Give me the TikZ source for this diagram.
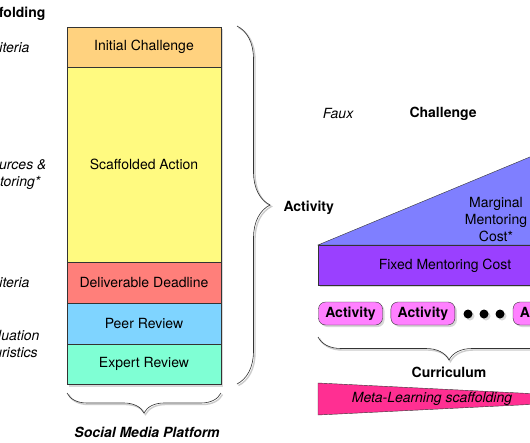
\documentclass[tikz,border=0pt]{standalone}
\usepackage{fontspec}
\setmainfont{TeX Gyre Heros}
\usetikzlibrary{positioning, shadows, decorations.pathreplacing}
\definecolor{initcol}{HTML}{FFD27F}
\definecolor{scafcol}{HTML}{FFFA80}
\definecolor{deadcol}{HTML}{FF7F7A}
\definecolor{peercol}{HTML}{7FD4FF}
\definecolor{expcol}{HTML}{7FFFD4}
\definecolor{margcol}{HTML}{7F7FFF}
\definecolor{fixcol}{HTML}{9A40FF}
\definecolor{pillcol}{HTML}{FF80FF}
\definecolor{metacol}{HTML}{FF2F92}

\begin{document}
\begin{tikzpicture}[
    x=1pt, y=-1pt,
    font=\fontsize{14}{17}\selectfont,
    shade/.style={drop shadow={shadow xshift=2pt, shadow yshift=-2pt, opacity=0.3}},
    stage/.style={draw=black!80, fill=#1, minimum width=154pt, inner sep=0pt, shade},
    pill/.style={draw=black!80, fill=pillcol, rounded corners=7pt, minimum width=64pt,
        minimum height=23pt, inner sep=0pt, font=\fontsize{14}{17}\selectfont\bfseries, shade},
    dot/.style={circle, fill=black, minimum size=9pt, inner sep=0pt, shade},
    curly/.style={decorate, decoration={brace, amplitude=#1}, draw=black!80, semithick,
        preaction={draw=black!20, line width=1.4pt, transform canvas={xshift=1.5pt, yshift=-1.5pt}}},
    side/.style={font=\fontsize{14}{17}\selectfont\itshape, align=center, anchor=east},
    heading/.style={font=\fontsize{14}{17}\selectfont\bfseries}
]
\useasboundingbox (0,0) rectangle (530,442);
\fill[white] (0,0) rectangle (530,442);
\clip (0,0) rectangle (530,442);

% Activity stack
\node[stage=initcol, minimum height=40pt] (init) at (144,46.7) {Initial Challenge};
\node[stage=scafcol, minimum height=194.7pt, below=0pt of init] (scaf) {Scaffolded Action};
\node[stage=deadcol, minimum height=40.6pt, below=0pt of scaf] (dead) {Deliverable Deadline};
\node[stage=peercol, minimum height=40.6pt, below=0pt of dead] (peer) {Peer Review};
\node[stage=expcol, minimum height=40.4pt, below=0pt of peer] (exp) {Expert Review};

% Side labels
\node[heading, anchor=east] (scaffolding) at (49,14) {Scaffolding};
\node[side] (crit1) at (33,47) {Criteria};
\node[side] (res) at (50,174.5) {Resources \&\\Mentoring*};
\node[side] (crit2) at (33,282) {Criteria};
\node[side] (eval) at (43,344) {Evaluation\\Heuristics};

% Braces
\coordinate (actTop) at (237,26);
\coordinate (actBot) at (237,384);
\draw[curly=33pt] (actTop) -- (actBot);
\node[heading, anchor=west] (activity) at (280,208) {Activity};

\coordinate (smpR) at (221,393);
\coordinate (smpL) at (67,393);
\draw[curly=20pt] (smpR) -- (smpL);
\node[heading, font=\fontsize{14}{17}\selectfont\bfseries\itshape] (smp) at (147,432) {Social Media Platform};

% Challenge header
\node[font=\fontsize{14}{17}\selectfont\itshape] (faux) at (338,113) {Faux};
\node[heading, anchor=west] (challenge) at (406,114) {Challenge};

% Mentoring cost
\fill[margcol, draw=black!80] (318,245) -- (572,139.5) -- (572,245) -- cycle;
\node[align=center] (marg) at (496,220) {Marginal\\Mentoring\\Cost*};
\node[draw=black!80, fill=fixcol, minimum width=254pt, minimum height=40pt, inner sep=0pt,
    anchor=north west, shade] (fixed) at (318,245) {};
\node (fixtext) at (445,266) {Fixed Mentoring Cost};

% Curriculum
\node[pill] (act1) at (350.5,313.5) {Activity};
\node[pill, right=8pt of act1] (act2) {Activity};
\node[dot] (d1) at (468,314) {};
\node[dot] (d2) at (484,314) {};
\node[dot] (d3) at (500,314) {};
\node[pill] (act3) at (545,313.5) {Activity};

\coordinate (curR) at (580,337);
\coordinate (curL) at (318,337);
\draw[curly=23pt] (curR) -- (curL);
\node[heading] (curriculum) at (449,372.5) {Curriculum};

% Meta-learning wedge
\fill[metacol, draw=black!80] (318,383) -- (640,399) -- (318,415) -- cycle;
\node[font=\fontsize{14}{17}\selectfont\itshape] (meta) at (432,398.5) {Meta-Learning scaffolding};

\end{tikzpicture}
\end{document}
